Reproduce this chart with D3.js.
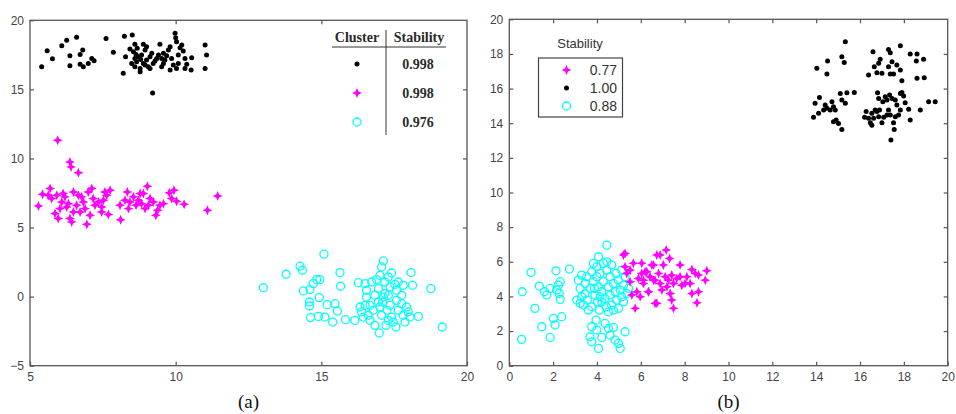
<!DOCTYPE html>
<html>
<head>
<meta charset="utf-8">
<script src="https://cdn.jsdelivr.net/npm/d3@7"></script>
<style>
  body { margin: 0; background: #fff; }
  svg { display: block; }
  .tick text { font-family: "Liberation Sans", Arial, sans-serif; font-size: 12px; fill: #444; }
  .tick line { stroke: #555; stroke-width: 1.2; }
</style>
</head>
<body>
<svg id="chart" width="956" height="414"></svg>
<script>
// ---- panel (a) data ----
var aBlack = [
  [5.40,16.64],[5.59,17.80],[5.77,17.22],[6.09,18.16],[6.26,18.55],[6.60,18.77],[6.37,17.44],
  [6.37,16.71],[6.72,17.53],[6.81,17.85],[6.72,16.81],[6.83,16.64],[7.00,16.88],[7.12,17.24],
  [7.20,17.08],[7.61,18.69],[7.86,17.68],[8.24,18.84],[8.51,18.94],[8.28,17.37],[8.20,16.16],
  [8.43,17.92],[8.60,18.26],[8.55,17.73],[8.72,17.37],[8.66,17.00],[8.60,16.64],[8.78,16.52],
  [8.89,18.26],[8.95,17.85],[9.00,18.09],[8.83,17.49],[9.00,17.12],[8.89,16.88],[9.06,16.64],
  [9.12,17.37],[9.18,17.61],[9.23,16.88],[9.35,17.24],[9.41,17.49],[9.46,18.26],[9.52,17.24],
  [9.58,17.61],[9.63,17.12],[9.69,17.44],[9.75,17.85],[9.81,18.09],[9.86,17.24],[9.92,16.76],
  [9.81,16.40],[9.98,19.06],[10.00,18.74],[10.03,18.45],[10.09,17.49],[10.09,16.88],[10.15,18.02],
  [10.21,18.21],[10.26,17.78],[10.32,17.24],[10.38,16.81],[10.32,16.52],[10.55,17.29],[10.53,16.40],
  [11.01,18.21],[11.06,17.49],[11.01,16.52],[9.21,14.73],[8.49,16.88],[8.68,17.97],[8.80,17.17],
  [9.12,16.52],[9.52,16.64],[10.03,16.52],[8.78,16.28],[8.60,17.24],[8.64,17.53],[8.95,16.76],
  [9.29,17.05],[9.58,16.88]
];
var aMagenta = [
  [5.95,11.32],[6.37,9.75],[6.41,9.39],[6.66,8.96],[5.29,6.56],[5.43,7.41],[5.69,7.82],[5.74,7.10],
  [5.92,7.34],[5.86,6.01],[6.03,6.37],[5.97,5.65],[6.09,6.85],[6.20,7.22],[6.26,6.49],[6.37,5.65],
  [6.43,5.41],[6.49,7.58],[6.60,6.61],[6.72,6.13],[6.77,7.22],[6.89,6.37],[6.95,5.24],[7.00,7.58],
  [7.12,7.82],[7.17,7.10],[7.23,6.61],[7.06,5.89],[7.35,6.85],[7.46,6.13],[7.57,7.58],[7.63,7.34],
  [7.69,5.94],[7.46,6.49],[8.11,5.57],[8.09,6.61],[8.26,6.97],[8.34,7.58],[8.43,6.85],[8.55,7.22],
  [8.64,6.61],[8.72,6.97],[8.83,6.73],[8.89,7.46],[9.03,7.99],[8.95,6.37],[9.12,7.10],[9.23,6.85],
  [9.32,5.89],[9.38,6.25],[9.46,6.61],[9.58,6.73],[9.78,7.51],[9.94,7.70],[9.86,7.10],[10.03,6.90],
  [10.29,6.68],[11.09,6.25],[11.44,7.29],[5.63,7.34],[6.14,7.46],[6.83,6.85],[6.49,6.13],[7.52,6.97],
  [8.38,6.37],[8.78,7.46],[9.06,6.61],[6.32,6.73],[6.66,7.34],[7.75,7.70]
];
var aCyan = [
  [13.01,0.65],[13.79,1.62],[14.27,2.20],[14.35,1.91],[15.09,3.07],[15.64,1.74],[15.66,0.75],
  [14.38,0.41],[14.61,0.51],[14.72,0.94],[14.84,1.23],[14.95,1.23],[14.59,-0.39],[14.59,-0.68],
  [14.93,-0.07],[15.20,-0.58],[15.47,-0.51],[15.55,-1.04],[14.63,-1.52],[14.90,-1.43],[15.12,-1.48],
  [15.39,-1.84],[15.83,-1.67],[16.15,-1.72],[16.27,1.01],[16.50,0.94],[16.55,0.46],[16.73,1.06],
  [16.90,1.23],[17.01,1.54],[17.07,2.15],[17.13,2.58],[17.18,1.06],[17.30,1.42],[17.41,1.71],
  [17.36,0.70],[17.53,0.89],[17.64,1.06],[17.81,0.82],[18.08,1.74],[18.13,0.82],[18.76,0.58],
  [19.15,-2.20],[16.33,-0.75],[16.38,-1.11],[16.50,-0.63],[16.44,-1.48],[16.61,-1.35],[16.67,-1.72],
  [16.78,-0.99],[16.84,-2.08],[16.99,-2.63],[16.96,-0.39],[17.01,-0.75],[17.07,-1.35],[17.13,-0.03],
  [17.18,0.22],[17.22,-2.08],[17.26,-0.99],[17.36,-0.63],[17.41,-1.48],[17.47,-1.84],[17.56,-2.20],
  [17.58,-0.27],[17.64,-0.99],[17.76,-0.51],[17.81,-1.35],[17.87,-1.84],[17.93,-0.75],[17.98,-1.11],
  [18.04,-1.48],[18.33,-1.43],[16.96,0.58],[16.84,0.10],[17.10,-0.39],[17.30,0.10],[16.55,-0.03],
  [17.58,0.46],[17.76,0.10],[16.67,-0.63],[17.30,-1.72]
];
var aTicksX = [5, 10, 15, 20];
var aTicksY = [-5, 0, 5, 10, 15, 20];
var aLegendHead = ["Cluster", "Stability"];
var aLegendValues = ["0.998", "0.998", "0.976"];

// ---- panel (b) data ----
var bBlack = [
  [15.33,18.71],[14.03,17.17],[14.52,17.59],[14.49,16.84],[15.17,17.84],[15.28,17.51],[16.59,18.13],
  [17.30,18.26],[17.38,18.07],[17.84,18.48],[18.29,17.99],[18.60,17.99],[18.57,17.59],[18.90,17.69],
  [16.92,17.69],[16.85,17.46],[16.65,17.26],[16.39,16.78],[16.77,16.92],[17.00,16.88],[17.30,17.26],
  [17.46,17.55],[17.68,17.36],[17.38,16.84],[17.53,16.84],[17.84,17.07],[17.91,16.45],[18.60,16.59],
  [18.93,16.63],[14.15,15.49],[13.95,15.15],[13.88,14.34],[14.11,14.57],[14.34,14.76],[14.41,15.05],
  [14.49,14.86],[14.64,14.76],[14.72,15.24],[14.79,14.95],[14.87,14.76],[14.91,14.18],[14.79,14.09],
  [15.02,13.99],[15.17,13.64],[15.10,15.72],[15.17,15.34],[15.33,15.15],[15.40,15.76],[15.74,15.78],
  [16.28,14.67],[16.21,14.34],[16.39,14.28],[16.47,14.03],[16.54,14.57],[16.62,14.28],[16.69,14.76],
  [16.77,14.67],[16.89,14.76],[16.85,14.38],[16.80,15.76],[16.85,15.43],[17.04,15.24],[17.15,15.53],
  [17.23,15.34],[17.35,15.63],[17.46,15.43],[17.61,15.34],[17.68,15.05],[17.84,15.72],[17.91,15.78],
  [17.99,15.57],[18.06,15.18],[17.84,14.76],[17.76,14.47],[17.61,14.38],[17.53,14.03],[17.56,13.64],
  [17.30,14.76],[17.23,14.47],[17.38,14.47],[17.08,14.34],[17.00,14.03],[18.22,14.80],[18.29,14.18],
  [18.75,14.76],[19.13,15.24],[19.43,15.24],[17.41,13.03],[16.54,13.89]
];
var bMagenta = [
  [6.88,6.39],[7.16,6.68],[7.31,6.19],[7.03,5.81],[6.58,5.81],[7.79,5.81],[8.33,5.56],[9.01,5.48],
  [8.94,4.94],[8.63,5.23],[8.48,5.33],[6.27,5.42],[6.42,5.14],[6.65,4.94],[6.81,5.33],[6.88,4.75],
  [7.11,5.14],[7.26,4.94],[7.41,5.23],[7.49,4.75],[7.64,5.04],[7.79,5.14],[7.87,4.65],[8.10,5.14],
  [8.25,4.75],[8.33,4.17],[8.63,4.27],[8.56,3.63],[6.35,4.27],[6.65,3.60],[6.96,4.37],[7.34,4.17],
  [7.41,3.79],[7.49,3.31],[6.12,4.94],[6.04,5.91],[7.19,4.56],[8.02,4.75],[5.21,6.39],[5.28,6.48],
  [5.28,5.71],[5.51,5.52],[5.66,5.91],[5.89,5.04],[5.82,4.27],[5.74,3.31],[6.04,5.33],[6.20,5.42],
  [6.35,4.27],[6.58,4.94],[6.73,3.60],[5.51,4.85],[5.36,5.33],[6.12,4.75],[6.73,6.39],[6.50,5.81],
  [5.59,4.08],[5.97,3.98]
];
var bCyan = [
  [0.56,1.52],[0.59,4.27],[0.99,5.39],[1.17,3.31],[1.37,4.60],[1.48,2.25],[1.60,4.27],[1.71,4.08],
  [1.86,1.63],[2.13,5.48],[2.01,2.73],[2.09,2.35],[2.24,4.65],[2.32,4.85],[2.28,4.17],[2.32,3.83],
  [2.16,4.37],[2.39,2.83],[2.74,5.58],[1.86,4.46],[4.07,6.29],[4.45,6.96],[3.96,2.63],[3.76,2.25],
  [3.99,2.06],[3.68,1.67],[3.76,1.38],[4.07,1.00],[4.37,2.44],[4.52,2.15],[4.75,2.21],[4.60,1.77],
  [4.83,1.48],[4.98,1.29],[5.06,1.00],[5.28,1.96],[4.22,1.63],
  [3.15,4.94],[3.23,4.46],[3.30,3.98],[3.23,3.60],[3.46,4.75],[3.46,4.17],[3.53,5.14],[3.56,3.79],
  [3.69,4.46],[3.76,5.42],[3.76,3.40],[3.84,4.85],[3.91,4.08],[3.99,5.71],[3.99,5.14],[4.02,3.69],
  [4.07,4.56],[4.11,3.21],[4.14,5.33],[4.22,4.27],[4.29,5.91],[4.29,4.85],[4.37,3.88],[4.42,3.40],
  [4.45,5.52],[4.52,4.56],[4.60,5.14],[4.60,4.08],[4.67,5.81],[4.67,3.50],[4.75,4.75],[4.83,4.27],
  [4.87,5.33],[4.90,3.79],[4.98,4.94],[5.06,4.37],[5.13,3.98],[5.21,4.65],[5.28,5.14],[5.36,4.17],
  [3.30,5.23],[3.61,3.21],[3.84,5.91],[4.45,6.00],[4.22,3.69],[4.52,3.11],[4.98,3.31],[5.21,3.69],
  [3.08,3.79],[3.38,3.50],[3.88,4.46],[4.14,3.98],[4.75,3.21],[5.13,5.52],[5.44,4.46]
];
var bTicks = [0, 2, 4, 6, 8, 10, 12, 14, 16, 18, 20];
var bLegendTitle = "Stability";
var bLegendValues = ["0.77", "1.00", "0.88"];

var svg = d3.select("#chart");

var BLACK = "#000", MAGENTA = "#ff00ff", CYAN = "#00ffff";

// 4-pointed star used for the magenta markers
function star(cx, cy, R, r) {
  var p = [];
  for (var i = 0; i < 8; i++) {
    var a = i * Math.PI / 4, rad = i % 2 ? r : R;
    p.push([cx + rad * Math.sin(a), cy - rad * Math.cos(a)]);
  }
  return "M" + p.join("L") + "Z";
}

function drawMarker(g, kind, cx, cy) {
  if (kind === "dot") {
    g.append("circle").attr("cx", cx).attr("cy", cy).attr("r", 2.5).attr("fill", BLACK);
  } else if (kind === "star") {
    g.append("path").attr("d", star(cx, cy, 5, 2.1)).attr("fill", MAGENTA);
  } else {
    g.append("circle").attr("cx", cx).attr("cy", cy).attr("r", 4)
      .attr("fill", "none").attr("stroke", CYAN).attr("stroke-width", 1.3);
  }
}

function panel(x, y, ticksX, ticksY, caption) {
  var g = svg.append("g");
  var x0 = x.range()[0], x1 = x.range()[1], y0 = y.range()[0], y1 = y.range()[1];
  var inner = function (t, s) { return t.filter(function (v) { return v !== s.domain()[0] && v !== s.domain()[1]; }); };
  var noDomain = function (a) { a.select(".domain").remove(); };

  g.append("g").attr("transform", "translate(0," + y0 + ")")
    .call(d3.axisBottom(x).tickValues(ticksX).tickSizeInner(-4).tickSizeOuter(0).tickPadding(7))
    .call(noDomain);
  g.append("g").attr("transform", "translate(" + x0 + ",0)")
    .call(d3.axisLeft(y).tickValues(ticksY).tickSizeInner(-4).tickSizeOuter(0).tickPadding(6))
    .call(noDomain);
  g.append("g").attr("transform", "translate(0," + y1 + ")")
    .call(d3.axisTop(x).tickValues(inner(ticksX, x)).tickSizeInner(-4).tickSizeOuter(0).tickFormat(""))
    .call(noDomain);
  g.append("g").attr("transform", "translate(" + x1 + ",0)")
    .call(d3.axisRight(y).tickValues(inner(ticksY, y)).tickSizeInner(-4).tickSizeOuter(0).tickFormat(""))
    .call(noDomain);

  g.append("rect").attr("x", x0).attr("y", y1).attr("width", x1 - x0).attr("height", y0 - y1)
    .attr("fill", "none").attr("stroke", "#555").attr("stroke-width", 1.3);

  g.append("text").attr("x", (x0 + x1) / 2).attr("y", 408).attr("text-anchor", "middle")
    .attr("font-family", "Liberation Serif, Times New Roman, serif").attr("font-size", 19)
    .attr("fill", "#111").text(caption);
  return g;
}

function plot(g, x, y, data, kind) {
  data.forEach(function (d) { drawMarker(g, kind, x(d[0]), y(d[1])); });
}

// ---- panel (a) ----
var xA = d3.scaleLinear().domain([5, 20]).range([30, 467]);
var yA = d3.scaleLinear().domain([-5, 20]).range([365.7, 20.3]);
var gA = panel(xA, yA, aTicksX, aTicksY, "(a)");
plot(gA, xA, yA, aBlack, "dot");
plot(gA, xA, yA, aMagenta, "star");
plot(gA, xA, yA, aCyan, "ring");

var legA = gA.append("g").attr("font-family", "Liberation Serif, Times New Roman, serif")
  .attr("font-weight", "bold").attr("fill", "#2a2a2a");
legA.append("text").attr("x", 357).attr("y", 42).attr("text-anchor", "middle").attr("font-size", 14).text(aLegendHead[0]);
legA.append("text").attr("x", 419).attr("y", 42).attr("text-anchor", "middle").attr("font-size", 14).text(aLegendHead[1]);
legA.append("line").attr("x1", 332).attr("x2", 446).attr("y1", 47).attr("y2", 47).attr("stroke", "#333").attr("stroke-width", 1);
legA.append("line").attr("x1", 386).attr("x2", 386).attr("y1", 30).attr("y2", 135).attr("stroke", "#333").attr("stroke-width", 1);
["dot", "star", "ring"].forEach(function (k, i) {
  var cy = 64 + i * 29;
  drawMarker(legA, k, 357, cy);
  legA.append("text").attr("x", 418).attr("y", cy + 5).attr("text-anchor", "middle")
    .attr("font-size", 14).text(aLegendValues[i]);
});

// ---- panel (b) ----
var xB = d3.scaleLinear().domain([0, 20]).range([509.3, 947.7]);
var yB = d3.scaleLinear().domain([0, 20]).range([365.7, 19.3]);
var gB = panel(xB, yB, bTicks, bTicks, "(b)");
plot(gB, xB, yB, bBlack, "dot");
plot(gB, xB, yB, bCyan, "ring");
plot(gB, xB, yB, bMagenta, "star");

var legB = gB.append("g").attr("font-family", "Liberation Sans, Arial, sans-serif").attr("fill", "#333");
legB.append("text").attr("x", 580).attr("y", 48).attr("text-anchor", "middle").attr("font-size", 13).text(bLegendTitle);
legB.append("rect").attr("x", 538.5).attr("y", 58).attr("width", 84).attr("height", 59)
  .attr("fill", "#fff").attr("stroke", "#444").attr("stroke-width", 1.2);
["star", "dot", "ring"].forEach(function (k, i) {
  var cy = 70 + i * 18;
  drawMarker(legB, k, 566.5, cy);
  legB.append("text").attr("x", 617).attr("y", cy + 5).attr("text-anchor", "end")
    .attr("font-size", 14).text(bLegendValues[i]);
});
</script>
</body>
</html>
